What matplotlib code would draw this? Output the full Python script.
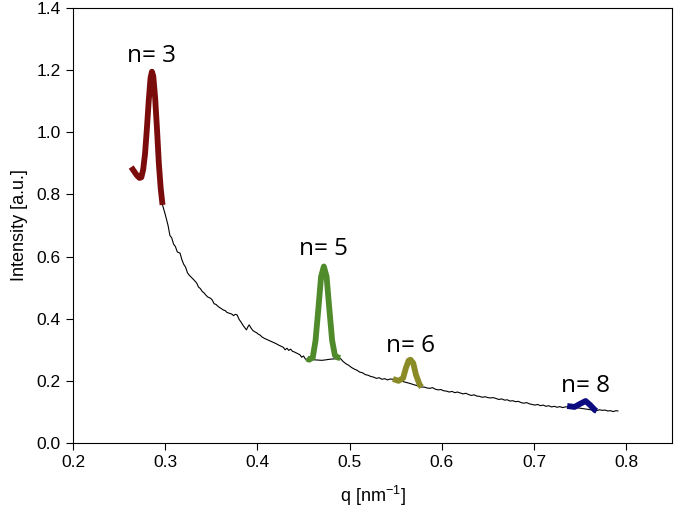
import matplotlib
matplotlib.use("Agg")
import matplotlib.pyplot as plt

# ---- data ----
bg_q = [0.297, 0.300, 0.303, 0.305, 0.307, 0.309, 0.311, 0.313, 0.316, 0.318, 0.320, 0.322,
        0.324, 0.326, 0.328, 0.331, 0.334, 0.336, 0.338, 0.340, 0.342, 0.344, 0.346, 0.349,
        0.351, 0.353, 0.355, 0.357, 0.359, 0.361, 0.363, 0.365, 0.367, 0.369, 0.372, 0.374,
        0.376, 0.378, 0.380, 0.382, 0.384, 0.386, 0.388, 0.390, 0.391, 0.393, 0.395, 0.397,
        0.399, 0.401, 0.403, 0.405, 0.408, 0.411, 0.414, 0.417, 0.420, 0.423, 0.426, 0.428,
        0.430, 0.432, 0.434, 0.436, 0.438, 0.440, 0.442, 0.444, 0.446, 0.448, 0.450, 0.452,
        0.460, 0.470, 0.480, 0.490, 0.493, 0.496, 0.499, 0.502, 0.505, 0.508, 0.511, 0.514,
        0.517, 0.520, 0.523, 0.526, 0.529, 0.532, 0.535, 0.538, 0.541, 0.544, 0.547, 0.555,
        0.565, 0.578, 0.581, 0.584, 0.587, 0.590, 0.593, 0.596, 0.599, 0.602, 0.605, 0.608,
        0.611, 0.614, 0.617, 0.620, 0.623, 0.626, 0.629, 0.632, 0.635, 0.638, 0.641, 0.644,
        0.647, 0.650, 0.653, 0.656, 0.659, 0.662, 0.665, 0.668, 0.671, 0.674, 0.677, 0.680,
        0.683, 0.686, 0.689, 0.692, 0.695, 0.698, 0.701, 0.704, 0.707, 0.710, 0.713, 0.716,
        0.719, 0.722, 0.725, 0.728, 0.731, 0.734, 0.737, 0.750, 0.768, 0.771, 0.774, 0.777,
        0.780, 0.783, 0.786, 0.789, 0.791]
bg_i = [0.766, 0.735, 0.700, 0.668, 0.660, 0.640, 0.632, 0.615, 0.611, 0.590, 0.575, 0.566,
        0.548, 0.540, 0.534, 0.525, 0.515, 0.502, 0.497, 0.488, 0.483, 0.476, 0.470, 0.466,
        0.460, 0.448, 0.446, 0.440, 0.436, 0.432, 0.428, 0.426, 0.420, 0.418, 0.415, 0.410,
        0.414, 0.412, 0.398, 0.390, 0.380, 0.372, 0.364, 0.376, 0.380, 0.370, 0.362, 0.358,
        0.355, 0.350, 0.347, 0.341, 0.336, 0.332, 0.328, 0.324, 0.320, 0.315, 0.311, 0.308,
        0.300, 0.305, 0.298, 0.302, 0.295, 0.293, 0.290, 0.287, 0.284, 0.276, 0.280, 0.270,
        0.268, 0.266, 0.270, 0.272, 0.262, 0.255, 0.250, 0.243, 0.238, 0.234, 0.228, 0.226,
        0.220, 0.218, 0.214, 0.212, 0.208, 0.210, 0.205, 0.207, 0.203, 0.206, 0.205, 0.200,
        0.192, 0.180, 0.180, 0.177, 0.176, 0.178, 0.173, 0.171, 0.172, 0.168, 0.167, 0.164,
        0.166, 0.162, 0.164, 0.161, 0.158, 0.160, 0.156, 0.153, 0.155, 0.151, 0.150, 0.147,
        0.149, 0.146, 0.145, 0.146, 0.143, 0.140, 0.142, 0.138, 0.139, 0.135, 0.136, 0.133,
        0.134, 0.130, 0.128, 0.130, 0.126, 0.124, 0.122, 0.124, 0.120, 0.122, 0.118, 0.120,
        0.116, 0.118, 0.115, 0.117, 0.114, 0.116, 0.117, 0.112, 0.104, 0.107, 0.105, 0.106,
        0.103, 0.104, 0.101, 0.104, 0.103]

n3_q = [0.263, 0.266, 0.269, 0.272, 0.274, 0.276, 0.278, 0.280, 0.282, 0.284, 0.2855,
        0.287, 0.289, 0.291, 0.293, 0.295, 0.297]
n3_i = [0.888, 0.875, 0.862, 0.853, 0.855, 0.880, 0.930, 1.010, 1.100, 1.175, 1.195,
        1.180, 1.110, 1.010, 0.900, 0.820, 0.766]

n5_q = [0.4535, 0.456, 0.460, 0.463, 0.466, 0.469, 0.472, 0.475, 0.478, 0.481, 0.484, 0.487, 0.490]
n5_i = [0.272, 0.268, 0.275, 0.330, 0.430, 0.535, 0.568, 0.535, 0.430, 0.330, 0.282, 0.275, 0.274]

n6_q = [0.547, 0.553, 0.558, 0.561, 0.564, 0.566, 0.569, 0.572, 0.576, 0.578]
n6_i = [0.206, 0.200, 0.209, 0.241, 0.265, 0.268, 0.257, 0.219, 0.187, 0.180]

n8_q = [0.736, 0.744, 0.750, 0.756, 0.761, 0.766, 0.768]
n8_i = [0.119, 0.116, 0.126, 0.135, 0.122, 0.106, 0.103]

labels = ["n= 3", "n= 5", "n= 6", "n= 8"]
label_q = [0.285, 0.472, 0.566, 0.756]
label_i = [1.245, 0.624, 0.312, 0.183]

x_ticks = [0.2, 0.3, 0.4, 0.5, 0.6, 0.7, 0.8]
y_ticks = [0.0, 0.2, 0.4, 0.6, 0.8, 1.0, 1.2, 1.4]

# ---- plot ----
tick_font = ["Liberation Sans Narrow", "Liberation Sans", "DejaVu Sans"]
fig = plt.figure(figsize=(6.77, 5.16), dpi=100)
ax = fig.add_axes([0.108, 0.1415, 0.885, 0.843])

ax.plot(bg_q, bg_i, color="black", lw=0.8, zorder=2)
peak_sets = [(n3_q, n3_i, "#7a0c0c"), (n5_q, n5_i, "#4f8a2b"),
             (n6_q, n6_i, "#8a8a26"), (n8_q, n8_i, "#0c0c80")]
for q, i, c in peak_sets:
    ax.plot(q, i, color=c, lw=4.2, solid_capstyle="butt", solid_joinstyle="round", zorder=3)

for t, q, i in zip(labels, label_q, label_i):
    ax.text(q, i, t, ha="center", va="center", fontsize=17.5,
            family=["Open Sans", "DejaVu Sans"], color="black")

ax.set_xlim(0.2, 0.85)
ax.set_ylim(0.0, 1.4)
ax.set_xticks(x_ticks)
ax.set_yticks(y_ticks)
ax.set_xticklabels([f"{v:.1f}" for v in x_ticks], family=tick_font, fontsize=12.5)
ax.set_yticklabels([f"{v:.1f}" for v in y_ticks], family=tick_font, fontsize=12.5)
ax.tick_params(direction="out", length=5, width=0.8, pad=4)
for s in ax.spines.values():
    s.set_linewidth(0.8)

ax.set_xlabel("q [nm$^{\\mathregular{-1}}$]", family=tick_font, fontsize=13, labelpad=10)
ax.set_ylabel("Intensity [a.u.]", family=tick_font, fontsize=13, labelpad=6)

fig.savefig("out.png", dpi=100)
